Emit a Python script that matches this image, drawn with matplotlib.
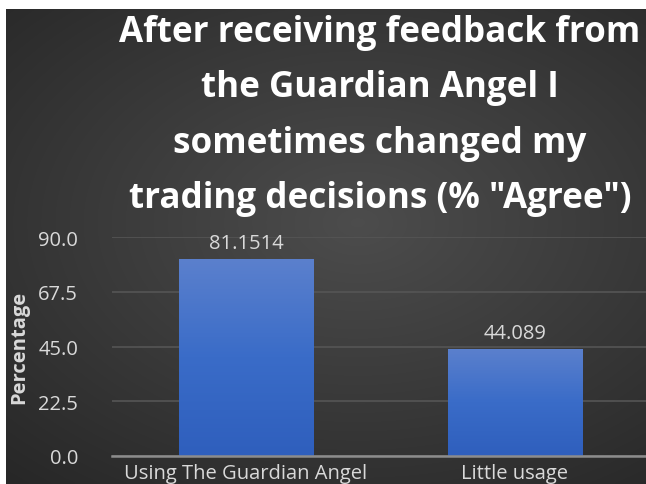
import numpy as np
import matplotlib.pyplot as plt

categories = ["Using The Guardian Angel", "Little usage"]
values = [81.1514, 44.089]
value_labels = ["81.1514", "44.089"]
yticks = [0.0, 22.5, 45.0, 67.5, 90.0]
title = 'After receiving feedback from\nthe Guardian Angel I\nsometimes changed my\ntrading decisions (% "Agree")'

dpi = 100
W, H = 646, 485
fig = plt.figure(figsize=(W / dpi, H / dpi), dpi=dpi, facecolor="white")

# dark radial-gradient background (white strip at top/left like the source)
bg = fig.add_axes([6 / W, 0, 1 - 6 / W, 1 - 10 / H])
bg.axis("off")
yy, xx = np.mgrid[0:1:200j, 0:1:260j]
r = np.sqrt(((xx - 0.55) / 0.9) ** 2 + ((yy - 0.45) / 0.8) ** 2)
shade = np.clip(0.30 - 0.16 * r, 0.15, 0.30)
bg.imshow(np.dstack([shade] * 3), aspect="auto", extent=[0, 1, 0, 1], interpolation="bilinear")
bg.set_xlim(0, 1)
bg.set_ylim(0, 1)

# plot area: x from 111.5 to 649.5 px, y from 457 (0) to 238 (90)
x0, x1 = 111.5, 649.5
y0, y1 = 457, 238
ax = fig.add_axes([x0 / W, (H - y0) / H, (x1 - x0) / W, (y0 - y1) / H])
ax.patch.set_alpha(0)
ax.set_xlim(-0.5, 1.5)
ax.set_ylim(0, 90)

bars = ax.bar(range(len(values)), values, width=0.5, color="#3b6cc9", zorder=3)
grad = np.linspace(0, 1, 100).reshape(-1, 1)
cm = plt.matplotlib.colors.LinearSegmentedColormap.from_list(
    "b", ["#2f5fbd", "#3a6cc8", "#5b80cd"])
for b in bars:
    bx, by = b.get_x(), b.get_y()
    bw, bh = b.get_width(), b.get_height()
    im = ax.imshow(grad, extent=[bx, bx + bw, by, by + bh], aspect="auto",
                   cmap=cm, origin="lower", zorder=4)
    im.set_clip_path(b)

for i, v in enumerate(values):
    ax.text(i, v + 2.2, value_labels[i], ha="center", va="bottom",
            color="#d9d9d9", fontsize=14.5, family="Open Sans")

ax.set_yticks(yticks)
ax.set_yticklabels([f"{t:.1f}" for t in yticks], color="#d9d9d9", fontsize=14.5, family="Open Sans")
ax.set_xticks(range(len(categories)))
ax.set_xticklabels(categories, color="#d9d9d9", fontsize=14.5, family="Open Sans")
ax.tick_params(length=0, pad=5)
ax.tick_params(axis="y", pad=24)
ax.grid(axis="y", color="#555555", linewidth=1.2, zorder=0)
for s in ["top", "right", "left"]:
    ax.spines[s].set_visible(False)
ax.spines["bottom"].set_color("#8c8c8c")
ax.spines["bottom"].set_linewidth(1.8)
ax.spines["bottom"].set_zorder(5)

fig.text(19 / W, 1 - 347 / H, "Percentage", rotation=90, ha="center", va="center",
         color="#d9d9d9", fontsize=14.5, fontweight="bold", family="Open Sans")

fig.text(380 / W, 1 - 116 / H, title, ha="center", va="center", color="white",
         fontsize=25.2, fontweight="bold", family="Open Sans", linespacing=1.72)

fig.savefig("out.png", dpi=dpi)
